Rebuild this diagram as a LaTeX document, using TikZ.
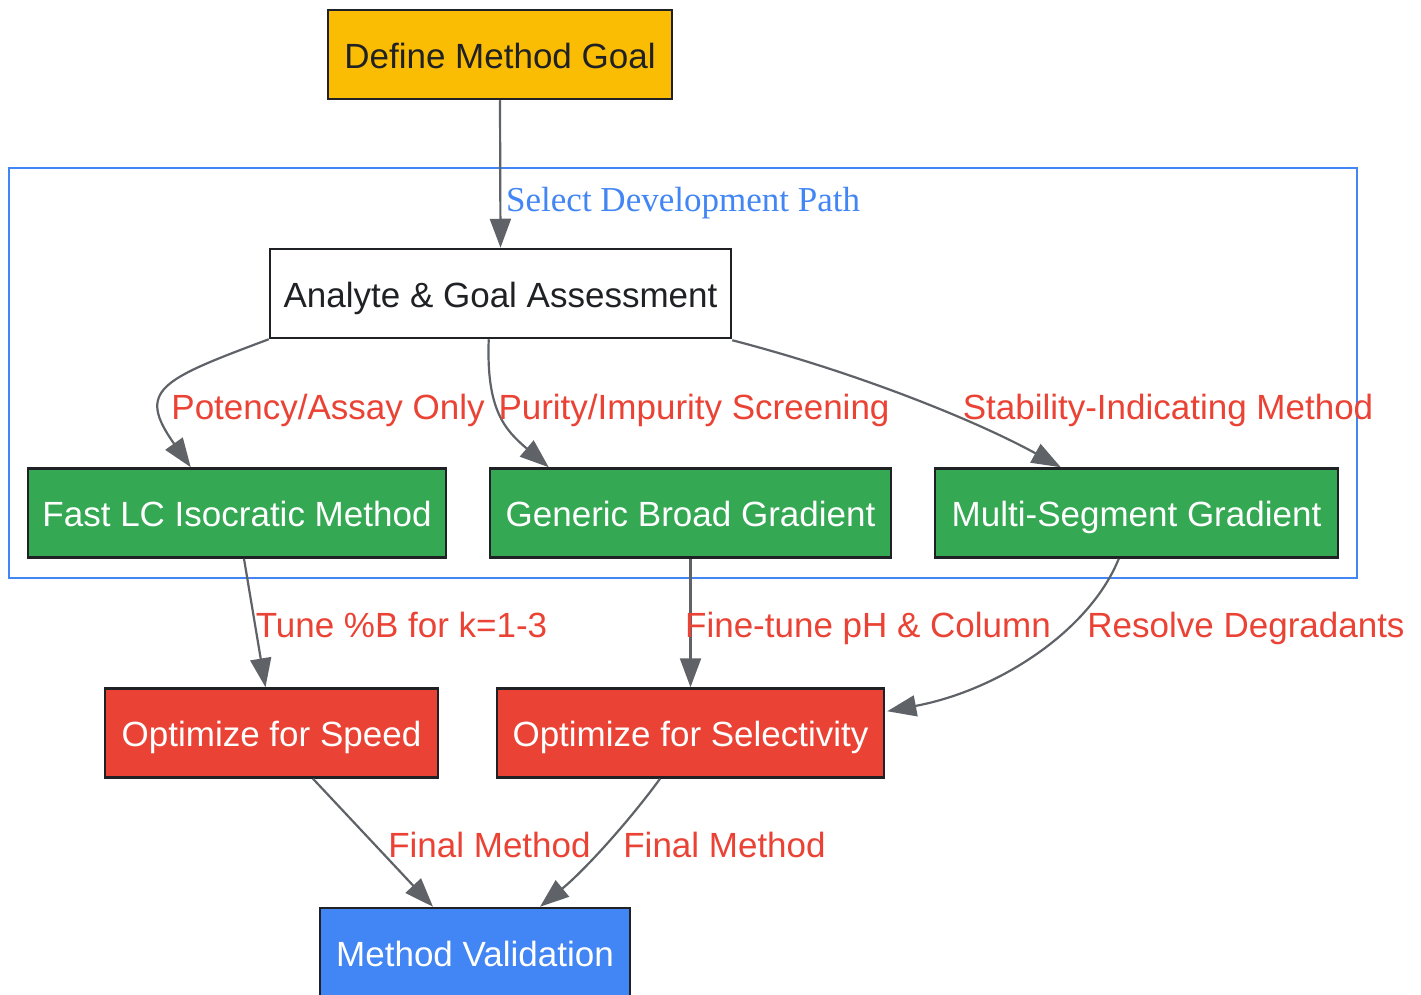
\documentclass[tikz,border=0pt]{standalone}
\usepackage{fontspec}
\setmainfont{Liberation Sans}
\newfontfamily\serifx{Liberation Serif}
\usetikzlibrary{arrows.meta,calc}
\definecolor{gyellow}{HTML}{FBBC04}
\definecolor{ggreen}{HTML}{34A853}
\definecolor{gred}{HTML}{EA4335}
\definecolor{gblue}{HTML}{4285F4}
\definecolor{gdark}{HTML}{202124}
\definecolor{ggray}{HTML}{5F6368}
\begin{document}
\begin{tikzpicture}[x=1pt,y=-1pt,
  box/.style={draw=gdark, line width=2.5pt, minimum height=89pt, text height=27.5pt, text depth=0pt, inner sep=0pt, font=\fontsize{35}{42}\selectfont},
  edge/.style={draw=ggray, line width=2.2pt, -{Triangle[length=29pt,width=21pt]}},
  elabel/.style={text=gred, font=\fontsize{35}{42}\selectfont, anchor=base, inner sep=0pt}]
\useasboundingbox (0,0) rectangle (1421,995);
\fill[white] (0,0) rectangle (1421,995);
% cluster
\draw[gblue, line width=2pt] (9,168) rectangle (1357,578);
% nodes
\node[box, fill=gyellow, text=gdark, minimum width=344pt] (goal) at (500,54.5) {Define Method Goal};
\node[box, fill=white, text=gdark, minimum width=461pt] (an) at (500.5,293.5) {Analyte \& Goal Assessment};
\node[box, fill=ggreen, text=white, minimum width=418pt] (fast) at (237,513) {Fast LC Isocratic Method};
\node[box, fill=ggreen, text=white, minimum width=401pt] (gen) at (690.5,513) {Generic Broad Gradient};
\node[box, fill=ggreen, text=white, minimum width=403pt] (multi) at (1136.5,513) {Multi-Segment Gradient};
\node[box, fill=gred, text=white, minimum width=333pt] (speed) at (271.5,733) {Optimize for Speed};
\node[box, fill=gred, text=white, minimum width=387pt] (sel) at (690.5,733) {Optimize for Selectivity};
\node[box, fill=gblue, text=white, minimum width=310pt] (val) at (475,952.5) {Method Validation};
% edges
\draw[edge] (goal.south) -- (an.north);
\draw[edge] (an.south west) .. controls (160,380) and (136,390) .. ($(fast.north west)+(164,0)$);
\draw[edge] ($(an.south west)+(220,0)$) .. controls (486,410) and (505,430) .. ($(gen.north west)+(60,0)$);
\draw[edge] ($(an.south east)+(0,1)$) .. controls (855,372) and (975,420) .. ($(multi.north west)+(127,0)$);
\draw[edge] ($(fast.south)+(7,0)$) -- ($(speed.north)+(-6,0)$);
\draw[edge] (gen.south) -- (sel.north);
\draw[edge] ($(multi.south west)+(185,0)$) .. controls (1090,630) and (1000,690) .. ($(sel.north east)+(2,24)$);
\draw[edge] ($(speed.south)+(41.5,0)$) -- ($(val.north)+(-42,0)$);
\draw[edge] ($(sel.south)+(-30.5,0)$) .. controls (630,820) and (585,870) .. ($(val.north)+(65,0)$);
% labels
\node[text=gblue, font=\serifx\fontsize{35}{42}\selectfont, anchor=base west, inner sep=0pt] (lsel) at (506,211.5) {Select Development Path};
\node[elabel] (l1) at (328,419.5) {Potency/Assay Only};
\node[elabel] (l2) at (694,419.5) {Purity/Impurity Screening};
\node[elabel] (l3) at (1168,419.5) {Stability-Indicating Method};
\node[elabel] (l4) at (401.5,637.5) {Tune \%B for k=1-3};
\node[elabel] (l5) at (868,637.5) {Fine-tune pH \& Column};
\node[elabel] (l6) at (1246,637.5) {Resolve Degradants};
\node[elabel] (l7) at (489.5,857.5) {Final Method};
\node[elabel] (l8) at (724.5,857.5) {Final Method};
\end{tikzpicture}
\end{document}
